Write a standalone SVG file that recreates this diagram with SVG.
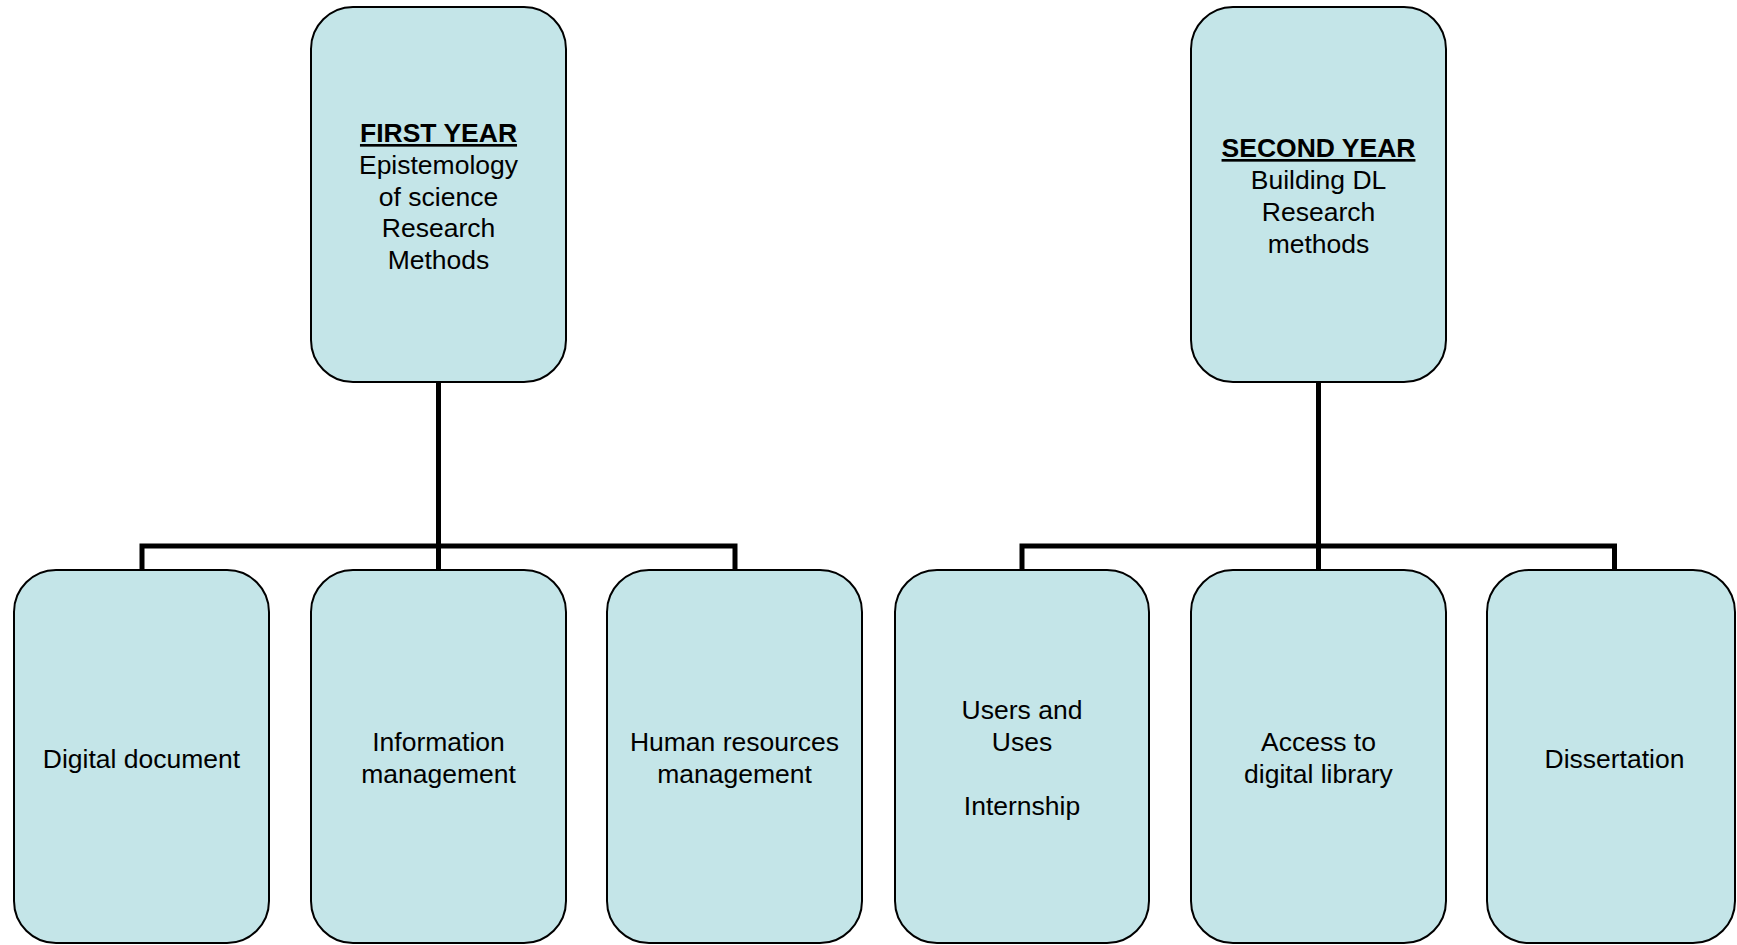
<svg xmlns="http://www.w3.org/2000/svg" width="1737" height="945" viewBox="0 0 1737 945">
<style>
.box{fill:#c4e5e8;stroke:#000;stroke-width:2}
.t{font-family:"Liberation Sans",Arial,sans-serif;font-size:26.5px;fill:#000;text-anchor:middle}
.h{font-weight:bold;text-decoration:underline}
.c{fill:none;stroke:#000;stroke-width:5;stroke-linejoin:miter}
</style>
<rect width="1737" height="945" fill="#fff"/>
<g id="connectors">
<path class="c" d="M438.5 382 V546 M142 570 V546 H735 V570 M438.5 546 V570"/>
<path class="c" d="M1318.5 382 V546 M1022 570 V546 H1614.5 V570 M1318.5 546 V570"/>
</g>
<g id="first-year">
<rect class="box" x="311" y="7" width="255" height="375" rx="42" ry="42"/>
<text class="t h" x="438.5" y="142">FIRST YEAR</text>
<text class="t" x="438.5" y="174">Epistemology</text>
<text class="t" x="438.5" y="206">of science</text>
<text class="t" x="438.5" y="237">Research</text>
<text class="t" x="438.5" y="269">Methods</text>
</g>
<g id="second-year">
<rect class="box" x="1191" y="7" width="255" height="375" rx="42" ry="42"/>
<text class="t h" x="1318.5" y="157">SECOND YEAR</text>
<text class="t" x="1318.5" y="189">Building DL</text>
<text class="t" x="1318.5" y="221">Research</text>
<text class="t" x="1318.5" y="253">methods</text>
</g>
<g id="digital-document">
<rect class="box" x="14" y="570" width="255" height="373" rx="42" ry="42"/>
<text class="t" x="141.5" y="768">Digital document</text>
</g>
<g id="information-management">
<rect class="box" x="311" y="570" width="255" height="373" rx="42" ry="42"/>
<text class="t" x="438.5" y="751">Information</text>
<text class="t" x="438.5" y="783">management</text>
</g>
<g id="human-resources-management">
<rect class="box" x="607" y="570" width="255" height="373" rx="42" ry="42"/>
<text class="t" x="734.5" y="751">Human resources</text>
<text class="t" x="734.5" y="783">management</text>
</g>
<g id="users-and-uses">
<rect class="box" x="895" y="570" width="254" height="373" rx="42" ry="42"/>
<text class="t" x="1022" y="719">Users and</text>
<text class="t" x="1022" y="751">Uses</text>
<text class="t" x="1022" y="815">Internship</text>
</g>
<g id="access-digital-library">
<rect class="box" x="1191" y="570" width="255" height="373" rx="42" ry="42"/>
<text class="t" x="1318.5" y="751">Access to</text>
<text class="t" x="1318.5" y="783">digital library</text>
</g>
<g id="dissertation">
<rect class="box" x="1487" y="570" width="248" height="373" rx="42" ry="42"/>
<text class="t" x="1614.5" y="768">Dissertation</text>
</g>
</svg>
